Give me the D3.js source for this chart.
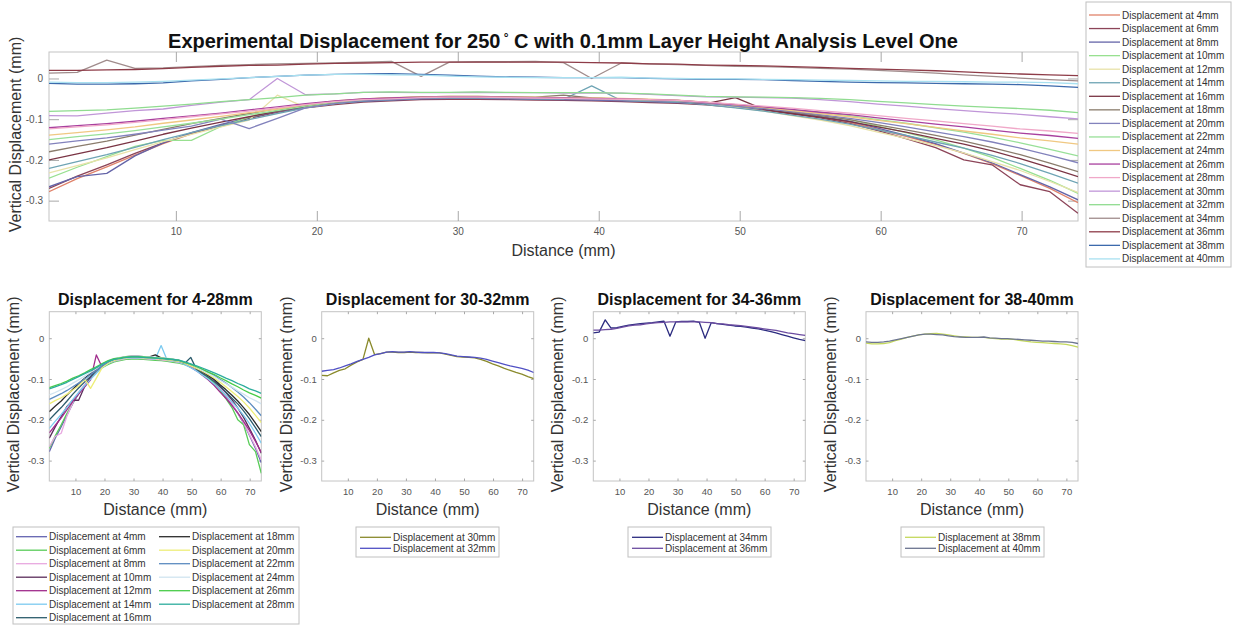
<!DOCTYPE html>
<html>
<head>
<meta charset="utf-8">
<script src="https://cdn.jsdelivr.net/npm/d3@7"></script>
<style>
  body { margin: 0; background: #fff; }
  svg text { font-family: "Liberation Sans", Arial, sans-serif; }
</style>
</head>
<body>
<div id="chart"></div>
<script>
// Distance along the part (mm), one reading every ~2mm
var distances = [1.0, 3.0, 5.1, 7.1, 9.1, 11.1, 13.2, 15.2, 17.2, 19.2, 21.3, 23.3, 25.3, 27.4, 29.4, 31.4, 33.4, 35.5, 37.5,
  39.5, 41.6, 43.6, 45.6, 47.6, 49.7, 51.7, 53.7, 55.7, 57.8, 59.8, 61.8, 63.9, 65.9, 67.9, 69.9, 72.0, 74.0];

// Vertical displacement (mm) at each layer height
var disp4 = [-0.278,-0.246,-0.217,-0.188,-0.160,-0.136,-0.115,-0.097,-0.081,-0.070,-0.061,-0.055,-0.052,-0.049,-0.048,-0.048,-0.049,-0.050,-0.051,-0.052,-0.054,-0.056,-0.058,-0.063,-0.070,-0.078,-0.085,-0.095,-0.107,-0.125,-0.142,-0.162,-0.184,-0.209,-0.238,-0.270,-0.305];
var disp6 = [-0.270,-0.240,-0.212,-0.184,-0.158,-0.135,-0.115,-0.098,-0.083,-0.072,-0.064,-0.058,-0.055,-0.052,-0.051,-0.051,-0.052,-0.053,-0.054,-0.055,-0.057,-0.059,-0.061,-0.065,-0.071,-0.078,-0.087,-0.097,-0.110,-0.128,-0.148,-0.170,-0.200,-0.212,-0.261,-0.278,-0.331];
var disp8 = [-0.266,-0.241,-0.233,-0.190,-0.158,-0.133,-0.113,-0.096,-0.081,-0.070,-0.061,-0.056,-0.053,-0.050,-0.049,-0.049,-0.050,-0.051,-0.052,-0.053,-0.055,-0.057,-0.059,-0.063,-0.069,-0.076,-0.084,-0.093,-0.105,-0.122,-0.140,-0.160,-0.183,-0.207,-0.236,-0.266,-0.298];
var disp10 = [-0.245,-0.218,-0.192,-0.167,-0.152,-0.152,-0.118,-0.095,-0.078,-0.066,-0.058,-0.053,-0.050,-0.047,-0.046,-0.046,-0.047,-0.048,-0.049,-0.050,-0.052,-0.054,-0.056,-0.061,-0.067,-0.074,-0.081,-0.090,-0.101,-0.117,-0.133,-0.151,-0.171,-0.194,-0.221,-0.250,-0.282];
var disp12 = [-0.232,-0.214,-0.195,-0.175,-0.155,-0.137,-0.119,-0.102,-0.041,-0.071,-0.060,-0.053,-0.049,-0.046,-0.045,-0.045,-0.046,-0.047,-0.048,-0.049,-0.051,-0.053,-0.055,-0.062,-0.071,-0.080,-0.091,-0.102,-0.116,-0.132,-0.147,-0.165,-0.183,-0.204,-0.226,-0.253,-0.280];
var disp14 = [-0.221,-0.204,-0.187,-0.169,-0.150,-0.133,-0.116,-0.101,-0.086,-0.072,-0.062,-0.055,-0.052,-0.049,-0.048,-0.048,-0.049,-0.050,-0.051,-0.018,-0.054,-0.056,-0.058,-0.064,-0.072,-0.080,-0.090,-0.100,-0.112,-0.126,-0.140,-0.156,-0.171,-0.189,-0.209,-0.233,-0.257];
var disp16 = [-0.200,-0.185,-0.170,-0.154,-0.137,-0.122,-0.107,-0.094,-0.080,-0.068,-0.059,-0.053,-0.050,-0.047,-0.046,-0.046,-0.047,-0.048,-0.049,-0.050,-0.052,-0.054,-0.056,-0.062,-0.047,-0.076,-0.086,-0.095,-0.106,-0.119,-0.132,-0.147,-0.161,-0.178,-0.197,-0.219,-0.241];
var disp18 = [-0.180,-0.167,-0.154,-0.139,-0.125,-0.111,-0.098,-0.086,-0.074,-0.064,-0.056,-0.051,-0.048,-0.045,-0.044,-0.044,-0.045,-0.046,-0.041,-0.048,-0.050,-0.052,-0.054,-0.059,-0.066,-0.073,-0.082,-0.091,-0.101,-0.114,-0.126,-0.140,-0.154,-0.170,-0.187,-0.208,-0.229];
var disp20 = [-0.161,-0.153,-0.146,-0.137,-0.127,-0.117,-0.100,-0.123,-0.098,-0.072,-0.061,-0.054,-0.051,-0.048,-0.047,-0.047,-0.048,-0.049,-0.050,-0.051,-0.053,-0.055,-0.057,-0.061,-0.068,-0.074,-0.081,-0.089,-0.098,-0.108,-0.119,-0.131,-0.143,-0.156,-0.171,-0.189,-0.207];
var disp22 = [-0.150,-0.143,-0.136,-0.128,-0.119,-0.110,-0.100,-0.089,-0.079,-0.068,-0.058,-0.052,-0.049,-0.046,-0.045,-0.045,-0.046,-0.047,-0.048,-0.049,-0.051,-0.053,-0.055,-0.059,-0.064,-0.070,-0.077,-0.083,-0.091,-0.101,-0.110,-0.121,-0.132,-0.144,-0.158,-0.174,-0.190];
var disp24 = [-0.139,-0.133,-0.126,-0.119,-0.110,-0.102,-0.093,-0.084,-0.075,-0.064,-0.055,-0.050,-0.047,-0.045,-0.044,-0.044,-0.045,-0.046,-0.047,-0.048,-0.049,-0.051,-0.053,-0.058,-0.065,-0.071,-0.079,-0.086,-0.094,-0.103,-0.111,-0.120,-0.129,-0.137,-0.146,-0.153,-0.161];
var disp26 = [-0.121,-0.116,-0.111,-0.105,-0.098,-0.092,-0.085,-0.077,-0.070,-0.062,-0.055,-0.050,-0.048,-0.046,-0.045,-0.045,-0.046,-0.047,-0.048,-0.049,-0.050,-0.052,-0.054,-0.059,-0.064,-0.070,-0.076,-0.083,-0.089,-0.097,-0.104,-0.112,-0.119,-0.127,-0.134,-0.140,-0.147];
var disp28 = [-0.124,-0.119,-0.114,-0.108,-0.101,-0.094,-0.087,-0.080,-0.072,-0.064,-0.057,-0.052,-0.050,-0.047,-0.046,-0.046,-0.047,-0.048,-0.049,-0.050,-0.051,-0.052,-0.054,-0.058,-0.063,-0.068,-0.073,-0.079,-0.085,-0.091,-0.098,-0.104,-0.111,-0.117,-0.124,-0.129,-0.135];
var disp30 = [-0.091,-0.092,-0.085,-0.079,-0.075,-0.066,-0.058,-0.052,0.000,-0.040,-0.038,-0.034,-0.034,-0.035,-0.035,-0.034,-0.035,-0.035,-0.036,-0.036,-0.036,-0.039,-0.042,-0.045,-0.046,-0.047,-0.048,-0.052,-0.057,-0.063,-0.068,-0.074,-0.079,-0.084,-0.088,-0.094,-0.099];
var disp32 = [-0.081,-0.079,-0.077,-0.073,-0.068,-0.063,-0.057,-0.052,-0.047,-0.041,-0.038,-0.034,-0.033,-0.034,-0.034,-0.033,-0.034,-0.035,-0.035,-0.035,-0.036,-0.038,-0.041,-0.044,-0.045,-0.046,-0.047,-0.049,-0.052,-0.056,-0.060,-0.064,-0.068,-0.071,-0.074,-0.078,-0.084];
var disp34 = [0.013,0.015,0.045,0.025,0.026,0.029,0.032,0.034,0.036,0.037,0.038,0.040,0.042,0.005,0.040,0.041,0.041,0.042,0.039,0.000,0.038,0.036,0.034,0.032,0.030,0.029,0.027,0.025,0.023,0.020,0.017,0.013,0.009,0.005,0.001,-0.003,-0.006];
var disp36 = [0.020,0.020,0.021,0.022,0.024,0.027,0.030,0.032,0.033,0.035,0.037,0.038,0.039,0.040,0.040,0.040,0.040,0.040,0.040,0.039,0.038,0.036,0.035,0.033,0.032,0.031,0.029,0.027,0.025,0.023,0.021,0.019,0.016,0.013,0.011,0.009,0.007];
var disp38 = [-0.012,-0.014,-0.014,-0.013,-0.011,-0.006,-0.002,0.002,0.005,0.008,0.010,0.011,0.012,0.010,0.008,0.006,0.004,0.003,0.002,0.002,0.002,0.000,-0.001,-0.002,-0.002,-0.003,-0.005,-0.007,-0.009,-0.010,-0.011,-0.012,-0.013,-0.014,-0.015,-0.018,-0.022];
var disp40 = [-0.009,-0.010,-0.010,-0.009,-0.007,-0.004,-0.001,0.002,0.005,0.008,0.010,0.010,0.009,0.008,0.006,0.004,0.003,0.002,0.002,0.002,0.003,0.001,0.000,-0.001,-0.001,-0.002,-0.003,-0.004,-0.005,-0.006,-0.007,-0.007,-0.008,-0.009,-0.009,-0.010,-0.013];

var layerNames = ["4mm","6mm","8mm","10mm","12mm","14mm","16mm","18mm","20mm","22mm","24mm","26mm","28mm",
  "30mm","32mm","34mm","36mm","38mm","40mm"];
var layerValues = [disp4, disp6, disp8, disp10, disp12, disp14, disp16, disp18, disp20, disp22, disp24, disp26, disp28,
  disp30, disp32, disp34, disp36, disp38, disp40];

var xTickValues = [10, 20, 30, 40, 50, 60, 70];
var yTickValues = [0, -0.1, -0.2, -0.3];

// colours used in the big overview plot
var mainColors = ["#e0826a","#8c4458","#6464a8","#98e090","#e8e2a8","#6ea4b4","#7a3444","#8a7c6c","#8282bc",
  "#98e098","#f0c882","#a8409e","#f0a8c8","#c096d8","#90dc90","#a08c8c","#8e3c48","#3c6aac","#a8e0f0"];
// colours used in the four detail plots
var subColors = ["#6464b0","#58cc58","#e8a8e0","#5a2c5a","#a02c8c","#7ccaf0","#2c5c6c","#2c2c2c","#eeee78",
  "#5c8cc0","#d0e4f0","#48cc48","#2cac9c",
  "#8a8a2c","#5050c4","#2c2c80","#6c4ca0","#c4d85c","#6c7490"];

var svg = d3.select("#chart").append("svg")
  .attr("width", 1233)
  .attr("height", 625);

svg.append("rect").attr("width", 1233).attr("height", 625).attr("fill", "#fff");

var yDomain = [-0.35, 0.065];
var xDomain = [1, 74];
var fmt = function(d) { return d === 0 ? "0" : d.toFixed(1); };

function drawPanel(p) {
  var g = svg.append("g").attr("transform", `translate(${p.left},${p.top})`);
  var x = d3.scaleLinear().domain(xDomain).range([0, p.width]);
  var y = d3.scaleLinear().domain(yDomain).range([p.height, 0]);

  var clipId = "clip" + p.id;
  g.append("clipPath").attr("id", clipId)
    .append("rect").attr("width", p.width).attr("height", p.height);

  // box
  g.append("rect")
    .attr("width", p.width).attr("height", p.height)
    .attr("fill", "none").attr("stroke", "#c4c4c4");

  // inside ticks on all four sides, MATLAB style
  var bottom = g.append("g").attr("transform", `translate(0,${p.height})`)
    .call(d3.axisBottom(x).tickValues(xTickValues).tickSize(-p.tick).tickPadding(p.pad).tickFormat(d3.format("d")));
  var top = g.append("g")
    .call(d3.axisTop(x).tickValues(xTickValues).tickSize(-p.tick).tickFormat(""));
  var left = g.append("g")
    .call(d3.axisLeft(y).tickValues(yTickValues).tickSize(-p.tick).tickPadding(p.ypad).tickFormat(fmt));
  var right = g.append("g").attr("transform", `translate(${p.width},0)`)
    .call(d3.axisRight(y).tickValues(yTickValues).tickSize(-p.tick).tickFormat(""));

  [bottom, top, left, right].forEach(function(a) {
    a.select(".domain").remove();
    a.selectAll(".tick line").attr("stroke", "#a8a8a8");
    a.selectAll(".tick text").attr("fill", "#555").style("font-size", p.tickFont + "px")
      .style("font-family", "'Liberation Sans', Arial, sans-serif");
  });

  var line = d3.line()
    .x(function(d, i) { return x(distances[i]); })
    .y(function(d) { return y(d); });

  g.append("g").attr("clip-path", `url(#${clipId})`)
    .selectAll("path")
    .data(p.series)
    .enter()
    .append("path")
      .attr("d", function(s) { return line(layerValues[s]); })
      .attr("fill", "none")
      .attr("stroke", function(s) { return p.colors[s]; })
      .attr("stroke-width", 1.3)
      .attr("stroke-linejoin", "round");

  // titles and axis labels
  if (p.title) {
    g.append("text")
      .attr("x", p.width / 2).attr("y", -7)
      .attr("text-anchor", "middle")
      .style("font-size", "16px").style("font-weight", "bold")
      .attr("fill", "#111")
      .text(p.title);
  }
  g.append("text")
    .attr("x", p.width / 2).attr("y", p.height + p.xlabOff)
    .attr("text-anchor", "middle")
    .style("font-size", "16px").attr("fill", "#333")
    .text("Distance (mm)");
  g.append("text")
    .attr("transform", `translate(${-p.ylabOff},${p.height / 2 - 2}) rotate(-90)`)
    .attr("text-anchor", "middle").attr("dy", "0.35em")
    .style("font-size", "16px").attr("fill", "#333")
    .text("Vertical Displacement (mm)");
}

function drawLegend(box, entries, colors) {
  svg.append("rect")
    .attr("x", box.x).attr("y", box.y).attr("width", box.w).attr("height", box.h)
    .attr("fill", "#fff").attr("stroke", "#c0c0c0");
  var item = svg.append("g").selectAll("g")
    .data(entries)
    .enter()
    .append("g")
      .attr("transform", function(d) { return `translate(${d.x},${d.y})`; });
  item.append("line")
    .attr("x1", 0).attr("x2", 31)
    .attr("stroke", function(d) { return colors[d.s]; })
    .attr("stroke-width", 1.3);
  item.append("text")
    .attr("x", 33).attr("dy", "0.35em")
    .style("font-size", "10px").attr("fill", "#333")
    .text(function(d) { return "Displacement at " + layerNames[d.s]; });
}

// ---- overview plot ----
drawPanel({
  id: 0, left: 49, top: 52, width: 1029, height: 169,
  tick: 10, pad: 7, ypad: 6, tickFont: 10, xlabOff: 35, ylabOff: 34,
  series: d3.range(19), colors: mainColors
});

var title = svg.append("text")
  .attr("x", 563).attr("y", 48)
  .attr("text-anchor", "middle")
  .style("font-size", "20px").style("font-weight", "bold").attr("fill", "#111");
title.append("tspan").text("Experimental Displacement for 250");
title.append("tspan").attr("dy", -6).style("font-size", "12px").text(" \u00B0");
title.append("tspan").attr("dy", 6).text(" C with 0.1mm Layer Height Analysis Level One");

drawLegend({ x: 1086, y: 2, w: 145, h: 265 },
  d3.range(19).map(function(s) { return { s: s, x: 1089, y: 15 + 13.55 * s }; }), mainColors);

// ---- detail plots ----
var panels = [
  { left: 49.3, title: "Displacement for 4-28mm", series: d3.range(13) },
  { left: 321.7, title: "Displacement for 30-32mm", series: [13, 14] },
  { left: 593.3, title: "Displacement for 34-36mm", series: [15, 16] },
  { left: 866, title: "Displacement for 38-40mm", series: [17, 18] }
];

panels.forEach(function(p, i) {
  drawPanel({
    id: i + 1, left: p.left, top: 311.7, width: 212, height: 169.3,
    tick: 2.5, pad: 7, ypad: 5, tickFont: 9.5, xlabOff: 34, ylabOff: 35.5,
    series: p.series, colors: subColors, title: p.title
  });
});

// legend under the 4-28mm plot, two columns
var leg1 = d3.range(13).map(function(s) {
  var col = s < 7 ? 0 : 1, row = s < 7 ? s : s - 7;
  return { s: s, x: col === 0 ? 16 : 159, y: 536.7 + 13.5 * row };
});
drawLegend({ x: 13, y: 527, w: 286, h: 97 }, leg1, subColors);

[[356, 13], [628, 15], [901, 17]].forEach(function(L) {
  drawLegend({ x: L[0], y: 527, w: 143, h: 30 },
    [{ s: L[1], x: L[0] + 4, y: 537.3 }, { s: L[1] + 1, x: L[0] + 4, y: 548.3 }], subColors);
});
</script>
</body>
</html>
